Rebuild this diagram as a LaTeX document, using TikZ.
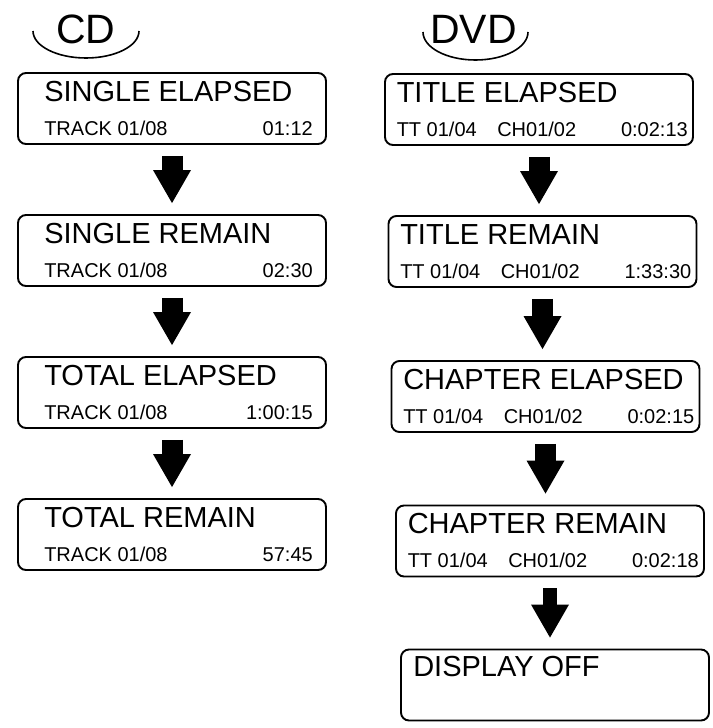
\documentclass[tikz,border=0pt]{standalone}
\usepackage{fontspec}
\setmainfont{Liberation Sans}
\usetikzlibrary{arrows.meta}

\tikzset{
	lcd/.style={draw, line width=1.9pt, rounded corners=8pt, minimum width=308pt, minimum height=71pt, inner sep=0pt},
	head/.style={anchor=base west, inner sep=0pt, font=\fontsize{29}{31}\selectfont},
	info/.style={anchor=base west, inner sep=0pt, font=\fontsize{20}{22}\selectfont},
	clock/.style={anchor=base east, inner sep=0pt, font=\fontsize{20}{22}\selectfont},
	disc/.style={anchor=base, inner sep=0pt, font=\fontsize{41}{43}\selectfont},
	steparrow/.style={line width=#1, -{Triangle[width=38pt,length=33pt,line width=0pt]}, shorten <=11pt, shorten >=11pt},
	steparrow/.default=21pt
}

\begin{document}
\begin{tikzpicture}[x=1pt, y=-1pt]
		\useasboundingbox (0,0) rectangle (712,728);
		% headers
		\node[disc] (cd) at (86,43) {CD};
		\node[disc] (dvd) at (473.5,43) {DVD};
		\draw[line width=1.6pt] (33,31) arc[start angle=180, end angle=0, x radius=53, y radius=27];
		\draw[line width=1.6pt] (423,32) arc[start angle=180, end angle=0, x radius=52.5, y radius=28];
		% CD modes
		\foreach \n/\y/\t/\c in {1/108.5/SINGLE ELAPSED/01:12, 2/250.5/SINGLE REMAIN/02:30,
			3/392.5/TOTAL ELAPSED/1:00:15, 4/534.5/TOTAL REMAIN/57:45} {
			\node[lcd] (cd\n) at (172,\y) {};
			\node[head] at ([shift={(27,29)}]cd\n.north west) {\t};
			\node[info] at ([shift={(27,63)}]cd\n.north west) {TRACK 01/08};
			\node[clock] at ([shift={(-14,63)}]cd\n.north east) {\c};
		}
		\foreach \a/\b in {1/2, 2/3, 3/4}
			\draw[steparrow] (cd\a.south) -- (cd\a.south |- cd\b.north);
		% DVD modes
		\foreach \n/\x/\y/\t/\c in {1/539/109.5/TITLE ELAPSED/0:02:13, 2/542.5/251.5/TITLE REMAIN/1:33:30,
			3/545.5/396.5/CHAPTER ELAPSED/0:02:15, 4/550/541/CHAPTER REMAIN/0:02:18} {
			\node[lcd] (dvd\n) at (\x,\y) {};
			\node[head] at ([shift={(12.5,29)}]dvd\n.north west) {\t};
			\node[info] at ([shift={(12.5,63)}]dvd\n.north west) {TT 01/04};
			\node[info] at ([shift={(113,63)}]dvd\n.north west) {CH01/02};
			\node[clock] at ([shift={(-6,63)}]dvd\n.north east) {\c};
		}
		\node[lcd] (dvd5) at (555,685) {};
		\node[head] at ([shift={(13,28)}]dvd5.north west) {DISPLAY OFF};
		\foreach \a/\b in {1/2, 2/3, 3/4}
			\draw[steparrow] (dvd\a.south) -- (dvd\a.south |- dvd\b.north);
		\draw[steparrow=14pt] (dvd4.south) -- (dvd4.south |- dvd5.north);
	\end{tikzpicture}
\end{document}
